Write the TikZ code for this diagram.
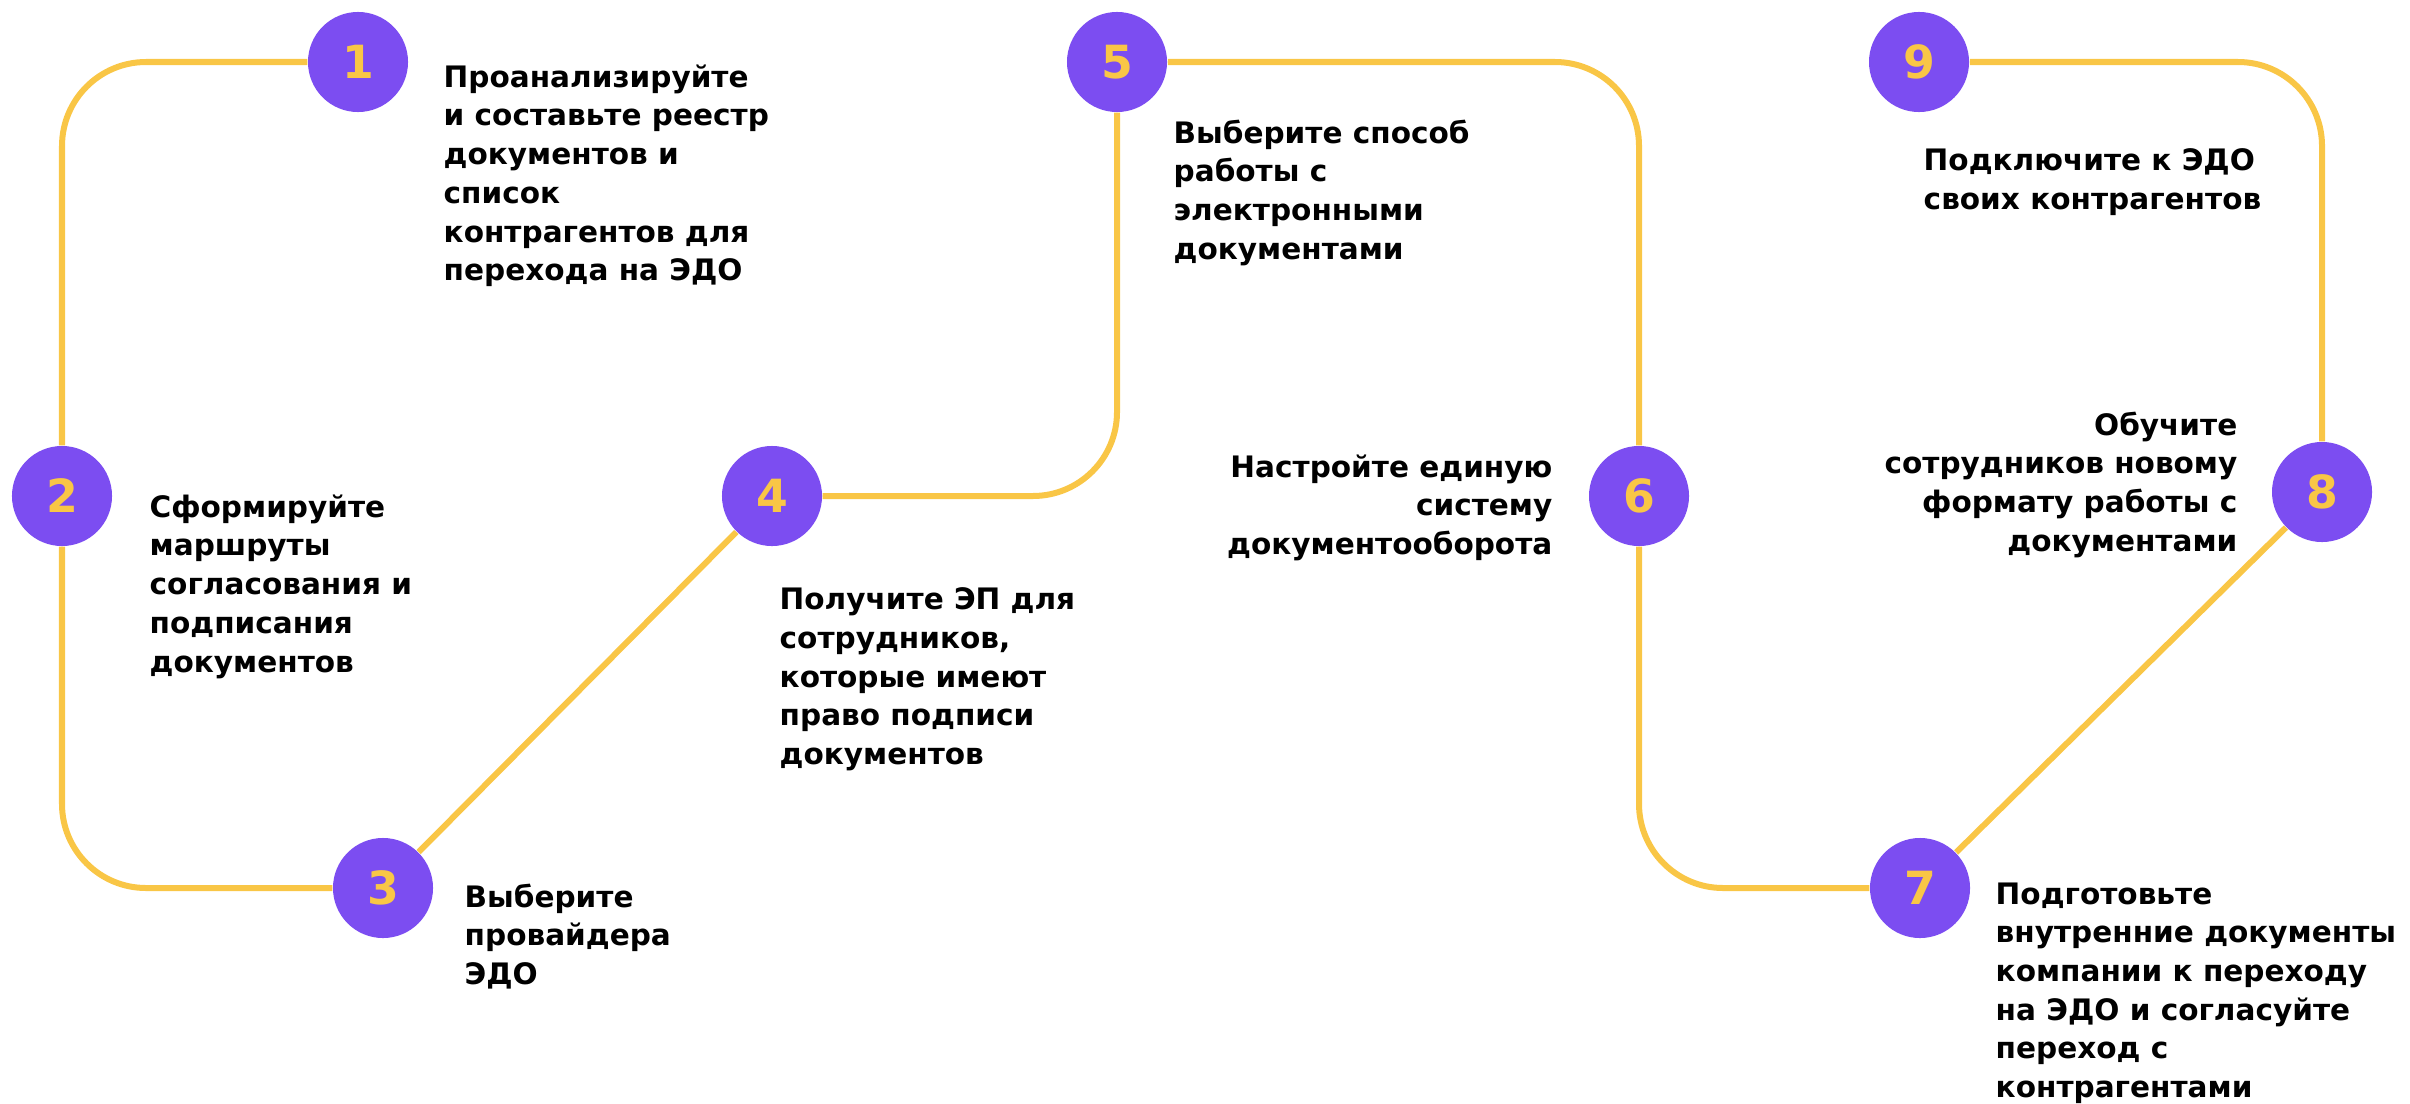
\documentclass[tikz,border=0pt]{standalone}
\usepackage{fontspec}
\setmainfont{DejaVu Sans}
\definecolor{stepviolet}{HTML}{7C4DF1}
\definecolor{stepyellow}{HTML}{F9C646}
\tikzstyle{purplenode}=[circle, fill=stepviolet, minimum size=1cm, inner sep=0, text=stepyellow, font=\fontsize{13}{13}\selectfont\bfseries]
\tikzstyle{line}=[line width=0.06cm, draw=stepyellow, rounded corners=0.84cm]
\tikzstyle{txt}=[font=\fontsize{8.4}{11}\selectfont\bfseries, inner sep=0, align=left, anchor=north west]
\tikzstyle{rtxt}=[txt, align=right, anchor=north east]

\begin{document}
\begin{tikzpicture}[x=0.01cm, y=-0.01cm]
  \useasboundingbox (0,0) rectangle (2410,1103);
  % steps
  \node[purplenode] (1) at (358,62)   {1};
  \node[purplenode] (2) at (62,496)   {2};
  \node[purplenode] (3) at (383,888)  {3};
  \node[purplenode] (4) at (772,496)  {4};
  \node[purplenode] (5) at (1117,62)  {5};
  \node[purplenode] (6) at (1639,496) {6};
  \node[purplenode] (7) at (1920,888) {7};
  \node[purplenode] (8) at (2322,492) {8};
  \node[purplenode] (9) at (1919,62)  {9};

  % route
  \draw[line] (1) -| (2);
  \draw[line] (2) |- (3);
  \draw[line] (3) -- (4);
  \draw[line] (4) -| (5);
  \draw[line] (5) -| (6);
  \draw[line] (6) |- (7);
  \draw[line] (7) -- (8);
  \draw[line] (8) |- (9);

  % texts
  \node[txt] (t1) at (443,64) {Проанализируйте\\и составьте реестр\\документов и\\список\\контрагентов для\\перехода на ЭДО};
  \node[txt] (t2) at (149,494) {Сформируйте\\маршруты\\согласования и\\подписания\\документов};
  \node[txt] (t3) at (464,883) {Выберите\\провайдера\\ЭДО};
  \node[txt] (t4) at (779,587) {Получите ЭП для\\сотрудников,\\которые имеют\\право подписи\\документов};
  \node[txt] (t5) at (1173,119) {Выберите способ\\работы с\\электронными\\документами};
  \node[rtxt] (t6) at (1553,454) {Настройте единую\\систему\\документооборота};
  \node[txt] (t7) at (1995,882) {Подготовьте\\внутренние документы\\компании к переходу\\на ЭДО и согласуйте\\переход с\\контрагентами};
  \node[rtxt] (t8) at (2238,411) {Обучите\\сотрудников новому\\формату работы с\\документами};
  \node[txt] (t9) at (1923,148) {Подключите к ЭДО\\своих контрагентов};
\end{tikzpicture}
\end{document}
